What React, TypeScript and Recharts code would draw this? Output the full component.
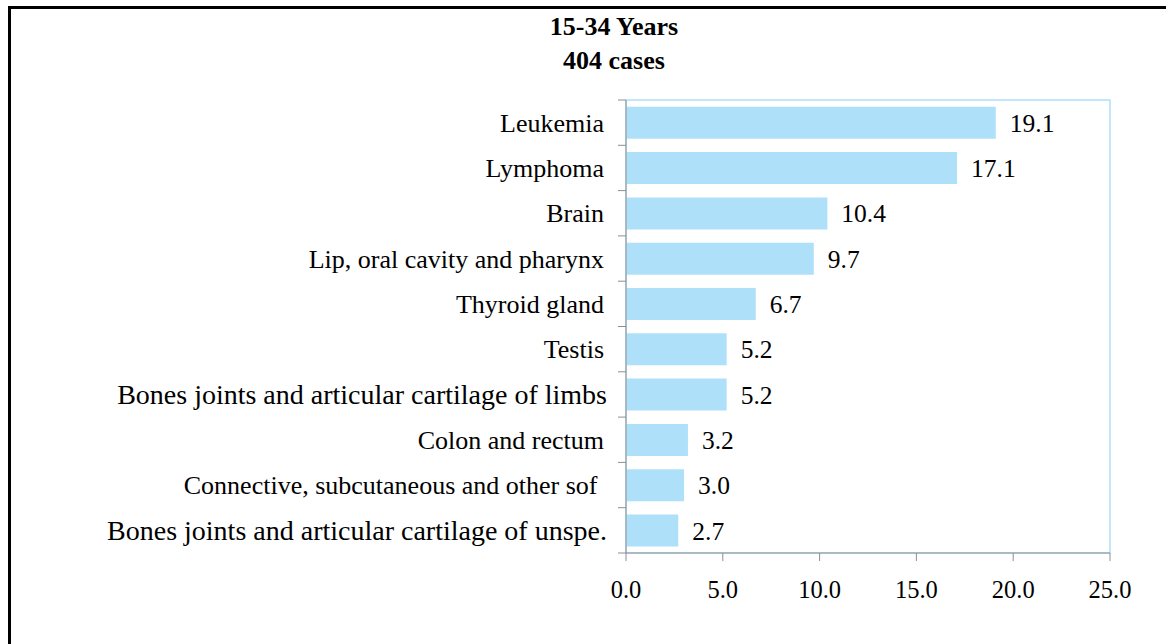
import React from 'react'
import { BarChart, Bar, XAxis, YAxis, LabelList, ReferenceArea } from 'recharts'

const categories = [
  'Leukemia',
  'Lymphoma',
  'Brain',
  'Lip, oral cavity and pharynx',
  'Thyroid gland',
  'Testis',
  'Bones joints and articular cartilage of limbs',
  'Colon and rectum',
  'Connective, subcutaneous and other sof ',
  'Bones joints and articular cartilage of unspe.',
]

const percents = [19.1, 17.1, 10.4, 9.7, 6.7, 5.2, 5.2, 3.2, 3.0, 2.7]

const xTicks = [0, 5, 10, 15, 20, 25]

const titleLines = ['15-34 Years', '404 cases']

// these two labels are set in a bigger type in the original
const bigLabels = new Set([
  'Bones joints and articular cartilage of limbs',
  'Bones joints and articular cartilage of unspe.',
])

const data = categories.map((name, i) => ({ name, value: percents[i] }))

const FONT = '"Liberation Serif", "Times New Roman", serif'
const W = 1166
const H = 644
const PLOT_TOP = 100
const PLOT_BOTTOM = 553
const PLOT_LEFT = 626
const PLOT_RIGHT = 1110
const HALF_BAND = (PLOT_BOTTOM - PLOT_TOP) / categories.length / 2
const AXIS_GRAY = '#8f8f8f'
const FRAME_BLUE = '#aee0fa'

const CategoryTick = ({ x, y, payload, index }: any) => {
  const big = bigLabels.has(payload.value)
  return (
    <g>
      <line x1={x - 8} x2={x} y1={y - HALF_BAND} y2={y - HALF_BAND} stroke={AXIS_GRAY} />
      {index === categories.length - 1 && (
        <line x1={x - 8} x2={x} y1={y + HALF_BAND} y2={y + HALF_BAND} stroke={AXIS_GRAY} />
      )}
      <text
        x={big ? x - 19 : x - 22}
        y={y}
        dy={big ? 10 : 9}
        textAnchor="end"
        fontFamily={FONT}
        fontSize={big ? 28 : 26}
        fill="#000"
        style={{ whiteSpace: 'pre' }}
      >
        {payload.value}
      </text>
    </g>
  )
}

export default function App() {
  return (
    <div style={{ position: 'relative', width: W, height: H }}>
      <style>{`body{margin:0;overflow:hidden;background:#fff}`}</style>
      <BarChart
        width={W}
        height={H}
        data={data}
        layout="vertical"
        margin={{ top: PLOT_TOP, right: W - PLOT_RIGHT, bottom: H - PLOT_BOTTOM - 50, left: 0 }}
        barCategoryGap="15%"
      >
        <ReferenceArea x1={0} x2={25} fill="none" stroke={FRAME_BLUE} strokeWidth={1.5} ifOverflow="visible" />
        <XAxis
          type="number"
          domain={[0, 25]}
          ticks={xTicks}
          interval={0}
          height={50}
          tickFormatter={(v: number) => v.toFixed(1)}
          tick={{ fontFamily: FONT, fontSize: 24.5, fill: '#000' }}
          tickSize={8}
          tickMargin={20}
          stroke={AXIS_GRAY}
        />
        <YAxis
          type="category"
          dataKey="name"
          width={PLOT_LEFT}
          interval={0}
          tickLine={false}
          tickSize={0}
          tickMargin={0}
          tick={<CategoryTick />}
          stroke={AXIS_GRAY}
        />
        <Bar dataKey="value" fill="#aee0fa" isAnimationActive={false}>
          <LabelList
            dataKey="value"
            position="right"
            offset={14}
            formatter={(v: number) => v.toFixed(1)}
            fill="#000"
            fontFamily={FONT}
            fontSize={25.5}
          />
        </Bar>
      </BarChart>
      {titleLines.map((t, i) => (
        <div
          key={t}
          style={{
            position: 'absolute',
            left: 0,
            width: 1228,
            top: 12 + i * 34,
            textAlign: 'center',
            fontFamily: FONT,
            fontWeight: 'bold',
            fontSize: 26,
            lineHeight: '30px',
            color: '#000',
          }}
        >
          {t}
        </div>
      ))}
      <div
        style={{
          position: 'absolute',
          left: 8,
          top: 6,
          width: W + 20,
          height: H + 20,
          border: '3px solid #000',
          boxSizing: 'border-box',
          pointerEvents: 'none',
        }}
      />
    </div>
  )
}
